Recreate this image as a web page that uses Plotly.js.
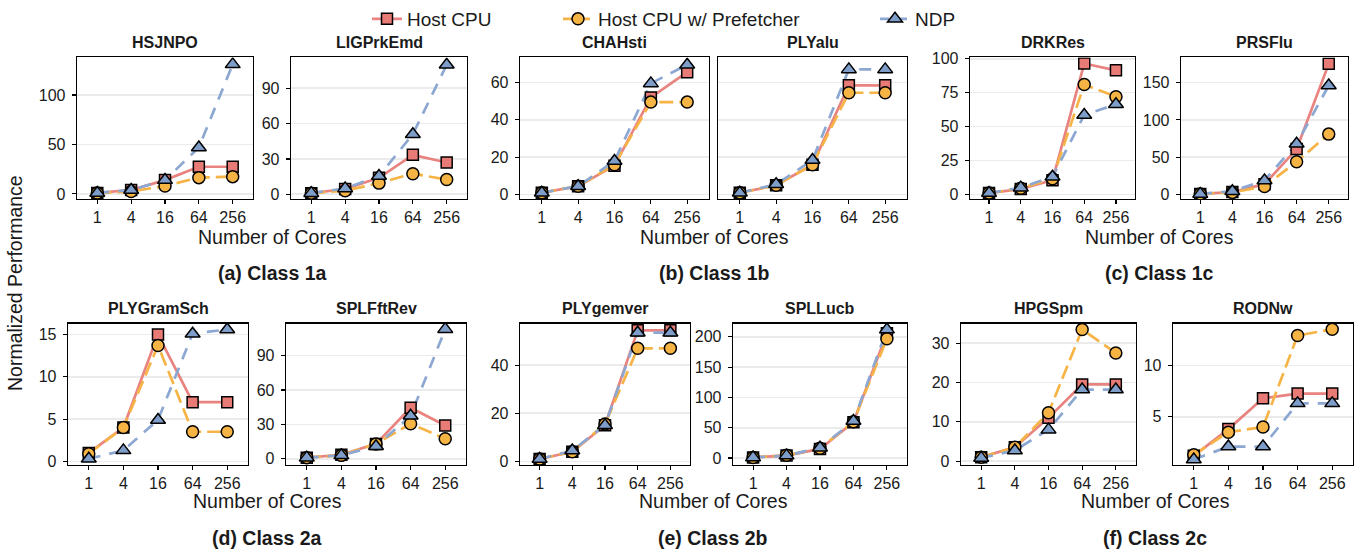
<!DOCTYPE html>
<html>
<head>
<meta charset="utf-8">
<script src="https://cdn.plot.ly/plotly-3.0.1.min.js"></script>
<style>html,body{margin:0;padding:0;background:#fff}#chart{width:1367px;height:556px}</style>
</head>
<body>
<div id="chart"></div>
<script>
// ---------- DATA ----------
const cores = ['1', '4', '16', '64', '256'];
const seriesNames = ['Host CPU', 'Host CPU w/ Prefetcher', 'NDP'];
const benchmarks = ['HSJNPO', 'LIGPrkEmd', 'CHAHsti', 'PLYalu', 'DRKRes', 'PRSFlu',
                    'PLYGramSch', 'SPLFftRev', 'PLYgemver', 'SPLLucb', 'HPGSpm', 'RODNw'];
const groupLabels = ['(a) Class 1a', '(b) Class 1b', '(c) Class 1c',
                     '(d) Class 2a', '(e) Class 2b', '(f) Class 2c'];

const host_HSJNPO = [1, 4, 14, 27.5, 27.5];
const pref_HSJNPO = [1, 2.5, 8, 16.5, 17.5];
const ndp_HSJNPO  = [1, 4, 14, 47, 131];

const host_LIGPrkEmd = [1, 4.5, 14, 33.5, 27];
const pref_LIGPrkEmd = [1, 3, 9.5, 17.5, 12.5];
const ndp_LIGPrkEmd  = [1, 5, 15.5, 51, 110];

const host_CHAHsti = [1, 4.5, 15.5, 52, 65.5];
const pref_CHAHsti = [1, 4.5, 16, 49.5, 49.5];
const ndp_CHAHsti  = [1, 4.5, 18, 59.5, 69.5];

const host_PLYalu = [1, 5, 16, 58.5, 58.5];
const pref_PLYalu = [1, 5, 16, 54.5, 54.5];
const ndp_PLYalu  = [1, 5.5, 18.5, 67, 67];

const host_DRKRes = [1, 4, 10.5, 96.5, 91.5];
const pref_DRKRes = [1, 4.5, 11.5, 81, 72];
const ndp_DRKRes  = [1, 5, 13, 58.5, 66.5];

const host_PRSFlu = [1, 3.5, 14, 61, 175];
const pref_PRSFlu = [1, 3, 11, 44, 81];
const ndp_PRSFlu  = [1, 4.5, 19, 68, 146];

const host_PLYGramSch = [1.0, 4.0, 15.0, 7.0, 7.0];
const pref_PLYGramSch = [0.9, 4.0, 13.7, 3.5, 3.5];
const ndp_PLYGramSch  = [0.3, 1.3, 4.9, 15.1, 15.6];

const host_SPLFftRev = [1, 3.5, 13, 44.5, 29];
const pref_SPLFftRev = [1, 3, 13, 30.5, 17.5];
const ndp_SPLFftRev  = [1, 3, 11, 37.5, 113];

const host_PLYgemver = [1, 4, 15, 54.5, 54.5];
const pref_PLYgemver = [1, 4, 15.5, 47, 47];
const ndp_PLYgemver  = [1, 4.5, 15, 53.5, 53.5];

const host_SPLLucb = [1, 4, 15, 59, 206];
const pref_SPLLucb = [1, 4.5, 16, 60, 197];
const ndp_SPLLucb  = [1, 4, 17, 61, 212];

const host_HPGSpm = [1, 3.5, 11, 19.5, 19.5];
const pref_HPGSpm = [1, 3.5, 12.3, 33.5, 27.5];
const ndp_HPGSpm  = [0.8, 2.7, 8, 18.2, 18.2];

const host_RODNw = [1.2, 3.8, 6.8, 7.25, 7.25];
const pref_RODNw = [1.3, 3.5, 4.0, 12.9, 13.5];
const ndp_RODNw  = [0.85, 2.1, 2.1, 6.3, 6.3];

// y tick values per panel
const yticks_HSJNPO = [0, 50, 100];
const yticks_LIGPrkEmd = [0, 30, 60, 90];
const yticks_CHAHsti = [0, 20, 40, 60];
const yticks_PLYalu = [0, 20, 40, 60];
const yticks_DRKRes = [0, 25, 50, 75, 100];
const yticks_PRSFlu = [0, 50, 100, 150];
const yticks_PLYGramSch = [0, 5, 10, 15];
const yticks_SPLFftRev = [0, 30, 60, 90];
const yticks_PLYgemver = [0, 20, 40];
const yticks_SPLLucb = [0, 50, 100, 150, 200];
const yticks_HPGSpm = [0, 10, 20, 30];
const yticks_RODNw = [5, 10];

// ---------- LAYOUT / STYLE ----------
const W = 1367, H = 556;
const FONT = 'Liberation Sans, Arial, Helvetica, sans-serif';
const hostData = [host_HSJNPO, host_LIGPrkEmd, host_CHAHsti, host_PLYalu, host_DRKRes, host_PRSFlu,
                  host_PLYGramSch, host_SPLFftRev, host_PLYgemver, host_SPLLucb, host_HPGSpm, host_RODNw];
const prefData = [pref_HSJNPO, pref_LIGPrkEmd, pref_CHAHsti, pref_PLYalu, pref_DRKRes, pref_PRSFlu,
                  pref_PLYGramSch, pref_SPLFftRev, pref_PLYgemver, pref_SPLLucb, pref_HPGSpm, pref_RODNw];
const ndpData  = [ndp_HSJNPO, ndp_LIGPrkEmd, ndp_CHAHsti, ndp_PLYalu, ndp_DRKRes, ndp_PRSFlu,
                  ndp_PLYGramSch, ndp_SPLFftRev, ndp_PLYgemver, ndp_SPLLucb, ndp_HPGSpm, ndp_RODNw];
const yticks = [yticks_HSJNPO, yticks_LIGPrkEmd, yticks_CHAHsti, yticks_PLYalu, yticks_DRKRes, yticks_PRSFlu,
                yticks_PLYGramSch, yticks_SPLFftRev, yticks_PLYgemver, yticks_SPLLucb, yticks_HPGSpm, yticks_RODNw];

// panel boxes in pixels: [left, right, top, bottom]
const boxes = [
  [77, 253, 52, 195], [291, 467, 52, 195],
  [520, 709, 52, 195], [718, 907, 52, 195],
  [970, 1135, 52, 195], [1181, 1348, 52, 195],
  [68, 248, 321, 464], [286, 466, 321, 464],
  [520, 690, 321, 464], [733, 907, 321, 464],
  [961, 1136, 321, 464], [1173, 1353, 321, 464]
];
const yRanges = [
  [-5, 138], [-3.9, 116.2],
  [-2.3, 73.4], [-2.3, 73.4],
  [-3.3, 101], [-5.7, 183.6],
  [-0.43, 16.3], [-5.4, 117.9],
  [-1.5, 57.3], [-11.5, 222],
  [-1.0, 35.0], [0.31, 14.06]
];
const groupCenters = [[272, 270, 234], [714, 270, 234], [1159, 270, 234],
                      [267, 538, 500], [713, 538, 500], [1155, 538, 500]];

const styles = [
  {line: '#E8837F', fill: '#E97B76', symbol: 'square', size: 11, dash: 'solid'},
  {line: '#F6B447', fill: '#F6B445', symbol: 'circle', size: 12, dash: '14px,6px'},
  {line: '#8CA8D2', fill: '#7E9DC9', symbol: 'triangle-up', size: 13, dash: '12px,9px'}
];

const traces = [];
const layout = {
  width: W, height: H,
  margin: {l: 0, r: 0, t: 0, b: 0},
  paper_bgcolor: '#fff', plot_bgcolor: '#fff',
  font: {family: FONT, color: '#1a1a1a'},
  showlegend: true,
  annotations: [],
  hovermode: false
};

const allData = [hostData, prefData, ndpData];

benchmarks.forEach((name, i) => {
  const xs = i === 0 ? 'x' : 'x' + (i + 1);
  const ys = i === 0 ? 'y' : 'y' + (i + 1);
  const [l, r, t, b] = boxes[i];
  layout[i === 0 ? 'xaxis' : 'xaxis' + (i + 1)] = {
    domain: [l / W, r / W], anchor: ys,
    type: 'category', categoryorder: 'array', categoryarray: cores,
    range: [-0.6, 4.6],
    showline: true, mirror: true, linecolor: '#000', linewidth: 1.3,
    ticks: 'outside', ticklen: 4, tickwidth: 1.1, tickcolor: '#000',
    tickfont: {size: 16, family: FONT, color: '#1a1a1a'},
    showgrid: false, zeroline: false, fixedrange: true
  };
  const hideY = (name === 'PLYalu');
  layout[i === 0 ? 'yaxis' : 'yaxis' + (i + 1)] = {
    domain: [1 - b / H, 1 - t / H], anchor: xs,
    range: yRanges[i],
    tickmode: 'array', tickvals: yticks[i], ticktext: yticks[i].map(String),
    showticklabels: !hideY,
    showline: true, mirror: true, linecolor: '#000', linewidth: 1.3,
    ticks: hideY ? '' : 'outside', ticklen: 4, tickwidth: 1.1, tickcolor: '#000',
    ticklabelstandoff: 3,
    tickfont: {size: 16, family: FONT, color: '#1a1a1a'},
    showgrid: true, gridcolor: '#EBEBEB', gridwidth: 1.6,
    zeroline: false, fixedrange: true
  };
  // lines first (all series), then markers
  allData.forEach((ser, s) => {
    traces.push({
      type: 'scatter', mode: 'lines', x: cores, y: ser[i], xaxis: xs, yaxis: ys,
      line: {color: styles[s].line, width: 2.7, dash: styles[s].dash},
      showlegend: false, hoverinfo: 'skip'
    });
  });
  allData.forEach((ser, s) => {
    traces.push({
      type: 'scatter', mode: 'markers', x: cores, y: ser[i], xaxis: xs, yaxis: ys,
      marker: {symbol: styles[s].symbol, size: styles[s].size, color: styles[s].fill,
               line: {color: '#000', width: 1.5}},
      showlegend: false, hoverinfo: 'skip'
    });
  });
  // facet title
  layout.annotations.push({
    text: '<b>' + name + '</b>', x: (l + r) / 2 / W, y: 1 - (t - 15) / H,
    xref: 'paper', yref: 'paper', xanchor: 'center', yanchor: 'middle',
    showarrow: false, font: {size: 16, family: FONT, color: '#1a1a1a'}
  });
});

// group labels and x titles
groupLabels.forEach((g, k) => {
  const [cx, gy, ty] = groupCenters[k];
  layout.annotations.push({
    text: '<b>' + g + '</b>', x: cx / W, y: 1 - gy / H, xref: 'paper', yref: 'paper',
    xanchor: 'center', yanchor: 'middle', showarrow: false,
    font: {size: 19.5, family: FONT, color: '#1a1a1a'}
  });
  layout.annotations.push({
    text: 'Number of Cores', x: cx / W, y: 1 - ty / H, xref: 'paper', yref: 'paper',
    xanchor: 'center', yanchor: 'middle', showarrow: false,
    font: {size: 19.5, family: FONT, color: '#1a1a1a'}
  });
});

// y title
layout.annotations.push({
  text: 'Normalized Performance', x: 15 / W, y: 1 - 280 / H, xref: 'paper', yref: 'paper',
  xanchor: 'center', yanchor: 'middle', textangle: -90, showarrow: false,
  font: {size: 19.5, family: FONT, color: '#1a1a1a'}
});

// legends (one per series so spacing matches)
const legendSymbolX = [387, 578, 895];
seriesNames.forEach((n, s) => {
  const key = s === 0 ? 'legend' : 'legend' + (s + 1);
  layout[key] = {
    x: (legendSymbolX[s] - 20) / W, xanchor: 'left', y: 1 - 13 / H, yanchor: 'middle',
    orientation: 'h', bgcolor: 'rgba(0,0,0,0)', borderwidth: 0,
    font: {size: 19, family: FONT, color: '#1a1a1a'}
  };
  traces.push({
    type: 'scatter', mode: 'lines+markers', x: [null], y: [null], name: n,
    legend: key, showlegend: true, xaxis: 'x', yaxis: 'y',
    line: {color: styles[s].line, width: 2.7, dash: s === 0 ? 'solid' : 'dash'},
    marker: {symbol: styles[s].symbol, size: styles[s].size, color: styles[s].fill,
             line: {color: '#000', width: 1.5}}
  });
});

Plotly.newPlot('chart', traces, layout, {staticPlot: true, displayModeBar: false});
</script>
</body>
</html>
